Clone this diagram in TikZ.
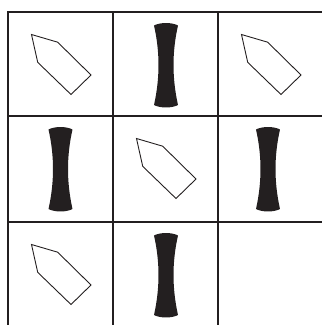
\documentclass[tikz,border=0pt]{standalone}
\definecolor{ink}{HTML}{231F20}
\tikzset{
  gridline/.style={draw=ink, line width=2.3pt},
  pentagon/.pic={
    \draw[ink, line width=0.9pt, line join=miter]
      (23.5,22.5) -- (49.7,30.2) -- (83,63) -- (63,82.5) -- (29.7,50.3) -- cycle;
  },
  bone/.pic={
    \fill[ink] (-12,13.5) .. controls (-6,10.2) and (6,10.2) .. (12,13.5)
      .. controls (6,40) and (6,66) .. (12,93)
      .. controls (6,96.3) and (-6,96.3) .. (-12,93)
      .. controls (-6,66) and (-6,40) .. cycle;
  }
}
\begin{document}
\begin{tikzpicture}[x=1pt,y=-1pt]
\useasboundingbox (0,0) rectangle (322,325);
% grid
\draw[gridline] (8,325) -- (8,12) -- (322,12);
\draw[gridline] (8,116) -- (322,116);
\draw[gridline] (8,222) -- (322,222);
\draw[gridline] (113,12) -- (113,325);
\draw[gridline] (218,12) -- (218,325);
% row 1
\pic at (8,12) {pentagon};
\pic at (166,12) {bone};
\pic at (218,12) {pentagon};
% row 2
\pic at (60.5,116) {bone};
\pic at (113,116) {pentagon};
\pic at (268,116) {bone};
% row 3
\pic at (8,222) {pentagon};
\pic at (166,222) {bone};
\end{tikzpicture}
\end{document}
